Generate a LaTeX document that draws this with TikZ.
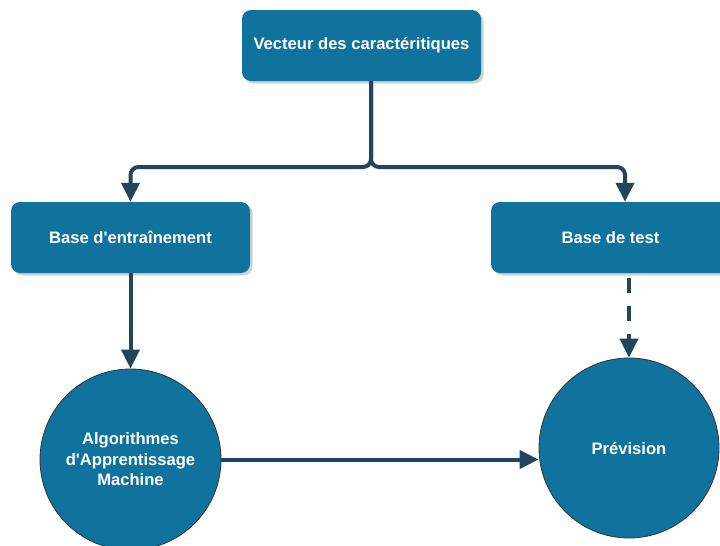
\documentclass[tikz,border=0pt]{standalone}
\usepackage{fontspec}
\setmainfont{Liberation Sans}
\usetikzlibrary{arrows.meta,shadows}
\definecolor{boxblue}{HTML}{10739E}
\definecolor{linenavy}{HTML}{23445D}
\tikzset{
  boxnode/.style={fill=boxblue, rounded corners=9pt, minimum width=239pt, minimum height=71pt,
    inner sep=0pt, text=white, font=\bfseries\fontsize{16.6}{20.5}\selectfont,
    drop shadow={shadow xshift=2.5pt, shadow yshift=-2.5pt, fill=black!35, opacity=0.5}},
  circnode/.style={circle, fill=boxblue, draw=black!80, line width=0.8pt, inner sep=0pt,
    text=white, align=center, font=\bfseries\fontsize{16.6}{20.5}\selectfont},
  conn/.style={draw=linenavy, line width=4pt, rounded corners=8pt,
    -{Triangle[length=19pt,width=18pt]}, fill=none},
}
\begin{document}
\begin{tikzpicture}[x=1pt,y=-1pt]
\useasboundingbox (0,0) rectangle (720,546);
\fill[white] (0,0) rectangle (720,546);
\begin{scope}
\clip (0,0) rectangle (720,546);
\node[boxnode] (top) at (361.5,45.5) {Vecteur des caractéritiques};
\node[boxnode] (train) at (130.5,237.5) {Base d\textquotesingle entraînement};
\node[boxnode] (test) at (610.5,237.5) {Base de test};
\node[circnode, minimum size=181pt] (ml) at (130.5,459.5) {Algorithmes\\d\textquotesingle Apprentissage\\Machine};
\node[circnode, minimum size=180pt] (prev) at (629,448) {Prévision};
\coordinate (split) at (371,167);
\draw[conn] ([xshift=9.5pt]top.south) -- (split) -| (train.north);
\draw[conn] ([xshift=9.5pt]top.south) -- (split) -| ([xshift=14.5pt]test.north);
\draw[conn] (train.south) -- (ml.north);
\draw[conn, dash pattern=on 15pt off 13pt] ([xshift=18.5pt,yshift=-5pt]test.south) -- (prev.north);
\draw[conn] (ml.east) -- (prev.west |- ml.east);
\end{scope}
\end{tikzpicture}
\end{document}
